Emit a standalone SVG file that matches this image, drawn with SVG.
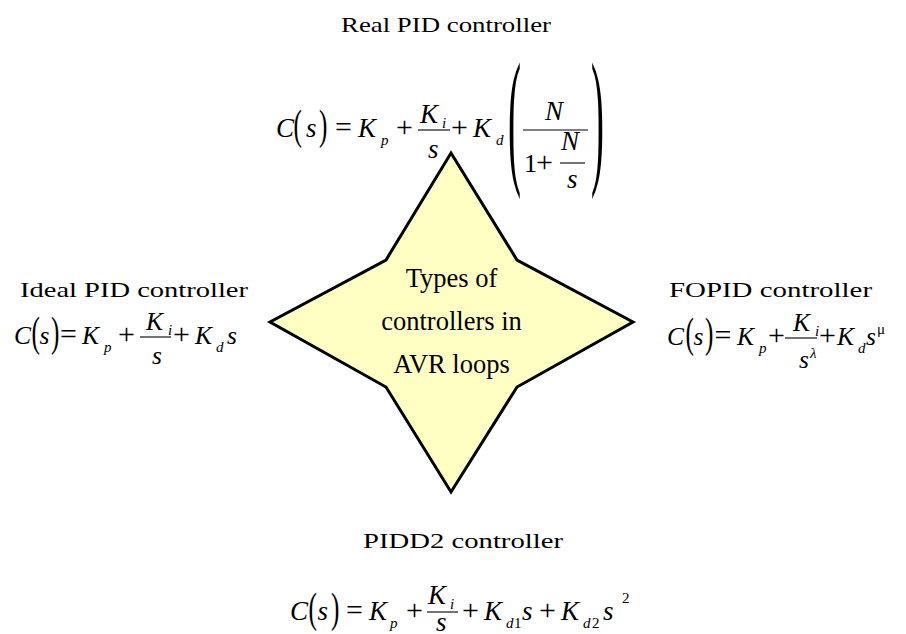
<svg xmlns="http://www.w3.org/2000/svg" width="906" height="634" viewBox="0 0 906 634">
<defs>
<style>
text{font-family:"Liberation Serif",serif;fill:#000}
.lbl{font-size:22px}
.star{font-size:26.5px;text-anchor:middle}
.m{font-style:italic;font-size:27px}
.m24{font-style:italic;font-size:25.5px}
.sub{font-style:italic;font-size:15px}
.subu{font-size:15px}
.op{font-size:30px}
.u{font-size:26px}
.par{font-size:42px}
.big{font-size:150px}
.bar{stroke:#000;stroke-width:1.1;fill:none}
</style>
</defs>
<rect width="906" height="634" fill="#fff"/>
<g id="connectors"/>
<g id="node-center">
<polygon points="451,153 517,260 633,322 517,387 451,492 386,387 270,322 386,260" fill="#FFFFC4" stroke="#000" stroke-width="3"/>
<text class="star" x="451.5" y="287">Types of</text>
<text class="star" x="451.5" y="330">controllers in</text>
<text class="star" x="451.5" y="373">AVR loops</text>
</g>
<g id="node-real">
<text class="lbl" x="446" y="32" text-anchor="middle" textLength="210" lengthAdjust="spacingAndGlyphs">Real PID controller</text>
<text class="m" x="276" y="137">C</text>
<text class="par" transform="translate(293.5,138.6) scale(0.6,1)">(</text>
<text class="m" x="306" y="137">s</text>
<text class="par" transform="translate(319,138.6) scale(0.6,1)">)</text>
<text class="op" x="335" y="137">=</text>
<text class="m" x="358" y="137">K</text>
<text class="sub" x="381" y="145">p</text>
<text class="op" x="396" y="137">+</text>
<line class="bar" x1="418" y1="130" x2="450" y2="130"/>
<text class="m" x="420" y="123">K</text>
<text class="sub" x="442" y="128">i</text>
<text class="m" x="428" y="158">s</text>
<text class="op" x="451" y="137">+</text>
<text class="m" x="473" y="137">K</text>
<text class="sub" x="496" y="145">d</text>
<text class="big" transform="translate(508,166.5) scale(0.26,1)">(</text>
<text class="m" x="545" y="120">N</text>
<line class="bar" x1="523" y1="130" x2="588" y2="130"/>
<text class="u" x="524" y="172">1</text>
<text class="op" x="536" y="172">+</text>
<text class="m" x="561" y="150">N</text>
<line class="bar" x1="560" y1="163" x2="585" y2="163"/>
<text class="m" x="567" y="188">s</text>
<text class="big" transform="translate(591,166.5) scale(0.26,1)">)</text>
</g>
<g id="node-ideal">
<text class="lbl" x="20" y="297" textLength="228" lengthAdjust="spacingAndGlyphs">Ideal PID controller</text>
<text class="m24" x="14" y="344">C</text>
<text class="par" transform="translate(31.5,345.6) scale(0.6,1)">(</text>
<text class="m24" x="39.5" y="344">s</text>
<text class="par" transform="translate(51,345.6) scale(0.6,1)">)</text>
<text class="op" x="60" y="344">=</text>
<text class="m24" x="82" y="344">K</text>
<text class="sub" x="104" y="352">p</text>
<text class="op" x="118" y="344">+</text>
<line class="bar" x1="140" y1="337" x2="171" y2="337"/>
<text class="m24" x="146" y="330">K</text>
<text class="sub" x="168" y="335">i</text>
<text class="m24" x="152" y="364">s</text>
<text class="op" x="173" y="344">+</text>
<text class="m24" x="195" y="344">K</text>
<text class="sub" x="216" y="352">d</text>
<text class="m24" x="227" y="344">s</text>
</g>
<g id="node-fopid">
<text class="lbl" x="669" y="297" textLength="203" lengthAdjust="spacingAndGlyphs">FOPID controller</text>
<text class="m24" x="667" y="345">C</text>
<text class="par" transform="translate(685.5,346.6) scale(0.6,1)">(</text>
<text class="m24" x="693.5" y="345">s</text>
<text class="par" transform="translate(705,346.6) scale(0.6,1)">)</text>
<text class="op" x="714.5" y="345">=</text>
<text class="m24" x="737" y="345">K</text>
<text class="sub" x="759" y="353">p</text>
<text class="op" x="768" y="345">+</text>
<line class="bar" x1="785" y1="338" x2="817" y2="338"/>
<text class="m24" x="793" y="331">K</text>
<text class="sub" x="815" y="336">i</text>
<text class="m24" x="799" y="368">s</text>
<text class="sub" x="810" y="358">λ</text>
<text class="op" x="819" y="345">+</text>
<text class="m24" x="837" y="345">K</text>
<text class="sub" x="858" y="353">d</text>
<text class="m24" x="866" y="345">s</text>
<text class="subu" x="877" y="334">μ</text>
</g>
<g id="node-pidd2">
<text class="lbl" x="363" y="548" textLength="200" lengthAdjust="spacingAndGlyphs">PIDD2 controller</text>
<text class="m" x="290" y="620">C</text>
<text class="par" transform="translate(308.5,621.6) scale(0.6,1)">(</text>
<text class="m" x="317.5" y="620">s</text>
<text class="par" transform="translate(331,621.6) scale(0.6,1)">)</text>
<text class="op" x="346" y="620">=</text>
<text class="m" x="369" y="620">K</text>
<text class="sub" x="390" y="628">p</text>
<text class="op" x="406" y="620">+</text>
<line class="bar" x1="427" y1="612" x2="458" y2="612"/>
<text class="m" x="428" y="604">K</text>
<text class="sub" x="450" y="609">i</text>
<text class="m" x="436" y="631">s</text>
<text class="op" x="462" y="620">+</text>
<text class="m" x="484" y="620">K</text>
<text class="sub" x="506" y="628">d</text>
<text class="subu" x="514" y="628">1</text>
<text class="m" x="522" y="620">s</text>
<text class="op" x="539" y="620">+</text>
<text class="m" x="561" y="620">K</text>
<text class="sub" x="583" y="628">d</text>
<text class="subu" x="592" y="628">2</text>
<text class="m" x="603" y="620">s</text>
<text class="subu" x="622" y="603">2</text>
</g>
</svg>
